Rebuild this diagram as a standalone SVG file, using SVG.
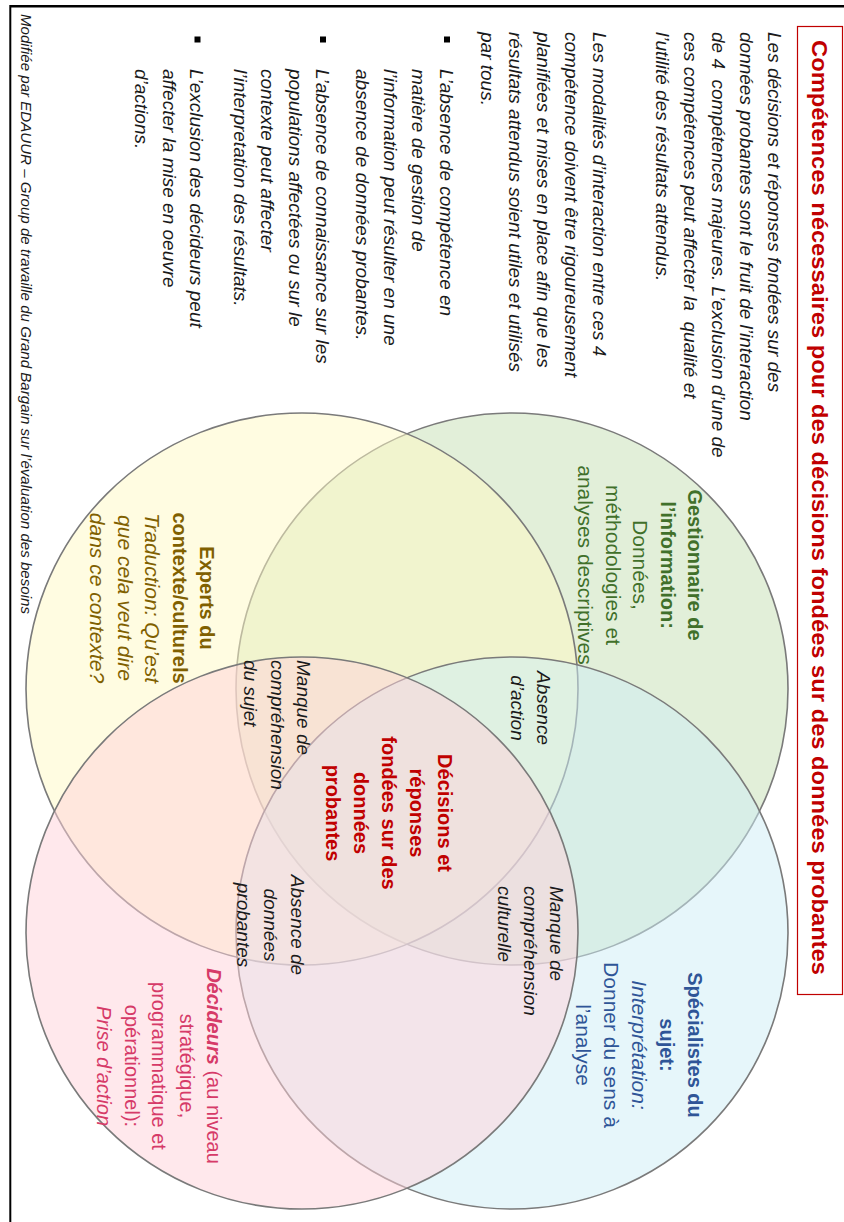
<svg xmlns="http://www.w3.org/2000/svg" width="844" height="1222" viewBox="0 0 844 1222">
<style>
text{font-family:"Liberation Sans",Arial,sans-serif;}
.body{font-size:19px;font-style:italic;fill:#1a1a1a;}
.lbl{font-size:20px;text-anchor:middle;}
.b{font-weight:bold;}
.i{font-style:italic;}
.circ{stroke:#7a7a7a;stroke-width:1.6;fill-opacity:0.5;}
.inter{font-size:19px;font-style:italic;fill:#1a1a1a;}
</style>
<rect width="844" height="1222" fill="#ffffff"/>
<g id="frame" stroke="#000" fill="none">
<line x1="10.3" y1="6.2" x2="844" y2="6.2" stroke-width="2.4"/>
<line x1="10.3" y1="5" x2="10.3" y2="1222" stroke-width="2"/>
</g>
<g id="title">
<rect x="797.5" y="26.5" width="45" height="968" fill="none" stroke="#c00000" stroke-width="1.2"/>
<text transform="translate(812,40) rotate(90)" font-size="22" font-weight="bold" fill="#c00000" textLength="935" lengthAdjust="spacingAndGlyphs">Compétences nécessaires pour des décisions fondées sur des données probantes</text>
</g>
<g id="intro">
<text class="body" transform="translate(768,32) rotate(90)" style="white-space:pre"><tspan x="0" dy="0">Les décisions et réponses fondées sur des</tspan><tspan x="0" dy="28">données probantes sont le fruit de l’interaction</tspan><tspan x="0" dy="28">de 4  compétences majeures. L’exclusion d’une de</tspan><tspan x="0" dy="28">ces compétences peut affecter la  qualité et</tspan><tspan x="0" dy="28">l’utilité des résultats attendus.</tspan></text>
<text class="body" transform="translate(593,32) rotate(90)"><tspan x="0" dy="0">Les modalités d’interaction entre ces 4</tspan><tspan x="0" dy="28">compétence doivent être rigoureusement</tspan><tspan x="0" dy="28">planifiées et mises en place afin que les</tspan><tspan x="0" dy="28">résultats attendus soient utiles et utilisés</tspan><tspan x="0" dy="28">par tous.</tspan></text>
</g>
<g id="bullets">
<rect x="444" y="36.5" width="6" height="6" fill="#000"/>
<rect x="320" y="36.5" width="6" height="6" fill="#000"/>
<rect x="194.5" y="36.5" width="6" height="6" fill="#000"/>
<text class="body" transform="translate(440,69) rotate(90)"><tspan x="0" dy="0">L’absence de compétence en</tspan><tspan x="0" dy="28">matière de gestion de</tspan><tspan x="0" dy="28">l’information peut résulter en une</tspan><tspan x="0" dy="28">absence de données probantes.</tspan></text>
<text class="body" transform="translate(316,69) rotate(90)"><tspan x="0" dy="0">L’absence de connaissance sur les</tspan><tspan x="0" dy="27.5">populations affectées ou sur le</tspan><tspan x="0" dy="27.5">contexte peut affecter</tspan><tspan x="0" dy="27.5">l’interpretation des résultats.</tspan></text>
<text class="body" transform="translate(190,69) rotate(90)"><tspan x="0" dy="0">L’exclusion des décideurs peut</tspan><tspan x="0" dy="27.5">affecter la mise en oeuvre</tspan><tspan x="0" dy="27.5">d’actions.</tspan></text>
</g>
<g id="footer">
<text transform="translate(21,14) rotate(90)" font-size="14" font-style="italic" fill="#1a1a1a" textLength="600" lengthAdjust="spacingAndGlyphs">Modifiée par EDAUUR – Group de travaille du Grand Bargain sur l’évaluation des besoins</text>
</g>
<g id="circles">
<g id="circle-information"><circle class="circ" cx="512" cy="689" r="276" fill="#c5dfb3"/></g>
<g id="circle-contexte"><circle class="circ" cx="302" cy="689" r="276" fill="#fffac3"/></g>
<g id="circle-specialistes"><circle class="circ" cx="512" cy="933" r="276" fill="#cdedf6"/></g>
<g id="circle-decideurs"><circle class="circ" cx="302" cy="933" r="276" fill="#ffd2d9"/></g>
</g>
<g id="connectors"></g>
<g id="label-information">
<text class="lbl" transform="translate(688,565) rotate(90)" fill="#40702a"><tspan x="0" dy="0" class="b">Gestionnaire de</tspan><tspan x="0" dy="27.5" class="b">l’information:</tspan><tspan x="0" dy="27.5" font-size="21">Données,</tspan><tspan x="0" dy="27.5" font-size="21">méthodologies et</tspan><tspan x="0" dy="27.5" font-size="21">analyses descriptives</tspan></text>
</g>
<g id="label-contexte">
<text class="lbl" transform="translate(200,598) rotate(90)" fill="#806000"><tspan x="0" dy="0" class="b">Experts du</tspan><tspan x="0" dy="27.5" class="b">contexte/culturels</tspan><tspan x="0" dy="27.5" class="i" font-size="21">Traduction: Qu’est</tspan><tspan x="0" dy="27.5" class="i" font-size="21">que cela veut dire</tspan><tspan x="0" dy="27.5" class="i" font-size="21">dans ce contexte?</tspan></text>
</g>
<g id="label-specialistes">
<text class="lbl" transform="translate(688,1045) rotate(90)" fill="#2f5597"><tspan x="0" dy="0" class="b">Spécialistes du</tspan><tspan x="0" dy="28" class="b">sujet:</tspan><tspan x="0" dy="28" class="i" font-size="21">Interprétation:</tspan><tspan x="0" dy="28" font-size="21">Donner du sens à</tspan><tspan x="0" dy="28" font-size="21">l’analyse</tspan></text>
</g>
<g id="label-decideurs">
<text class="lbl" transform="translate(207,1066) rotate(90)" fill="#d63a68" font-size="21"><tspan x="0" dy="0"><tspan class="b i">Décideurs</tspan> (au niveau</tspan><tspan x="0" dy="27.5">stratégique,</tspan><tspan x="0" dy="27.5">programmatique et</tspan><tspan x="0" dy="27.5">opérationnel):</tspan><tspan x="0" dy="27.5" class="i">Prise d’action</tspan></text>
</g>
<g id="label-center">
<text class="lbl b" transform="translate(438,813) rotate(90)" fill="#c00000"><tspan x="0" dy="0">Décisions et</tspan><tspan x="0" dy="28">réponses</tspan><tspan x="0" dy="28">fondées sur des</tspan><tspan x="0" dy="28">données</tspan><tspan x="0" dy="28">probantes</tspan></text>
</g>
<g id="label-absence-action">
<text class="inter" transform="translate(537,708) rotate(90)" text-anchor="middle"><tspan x="0" dy="0">Absence</tspan><tspan x="0" dy="26">d’action</tspan></text>
</g>
<g id="label-manque-sujet">
<text class="inter" transform="translate(297,660) rotate(90)"><tspan x="0" dy="0">Manque de</tspan><tspan x="0" dy="26.5">compréhension</tspan><tspan x="0" dy="26.5">du sujet</tspan></text>
</g>
<g id="label-absence-donnees">
<text class="inter" transform="translate(291,925) rotate(90)" text-anchor="middle"><tspan x="0" dy="0">Absence de</tspan><tspan x="0" dy="27">données</tspan><tspan x="0" dy="27">probantes</tspan></text>
</g>
<g id="label-manque-culturelle">
<text class="inter" transform="translate(550,886) rotate(90)"><tspan x="0" dy="0">Manque de</tspan><tspan x="0" dy="26">compréhension</tspan><tspan x="0" dy="26">culturelle</tspan></text>
</g>
</svg>
